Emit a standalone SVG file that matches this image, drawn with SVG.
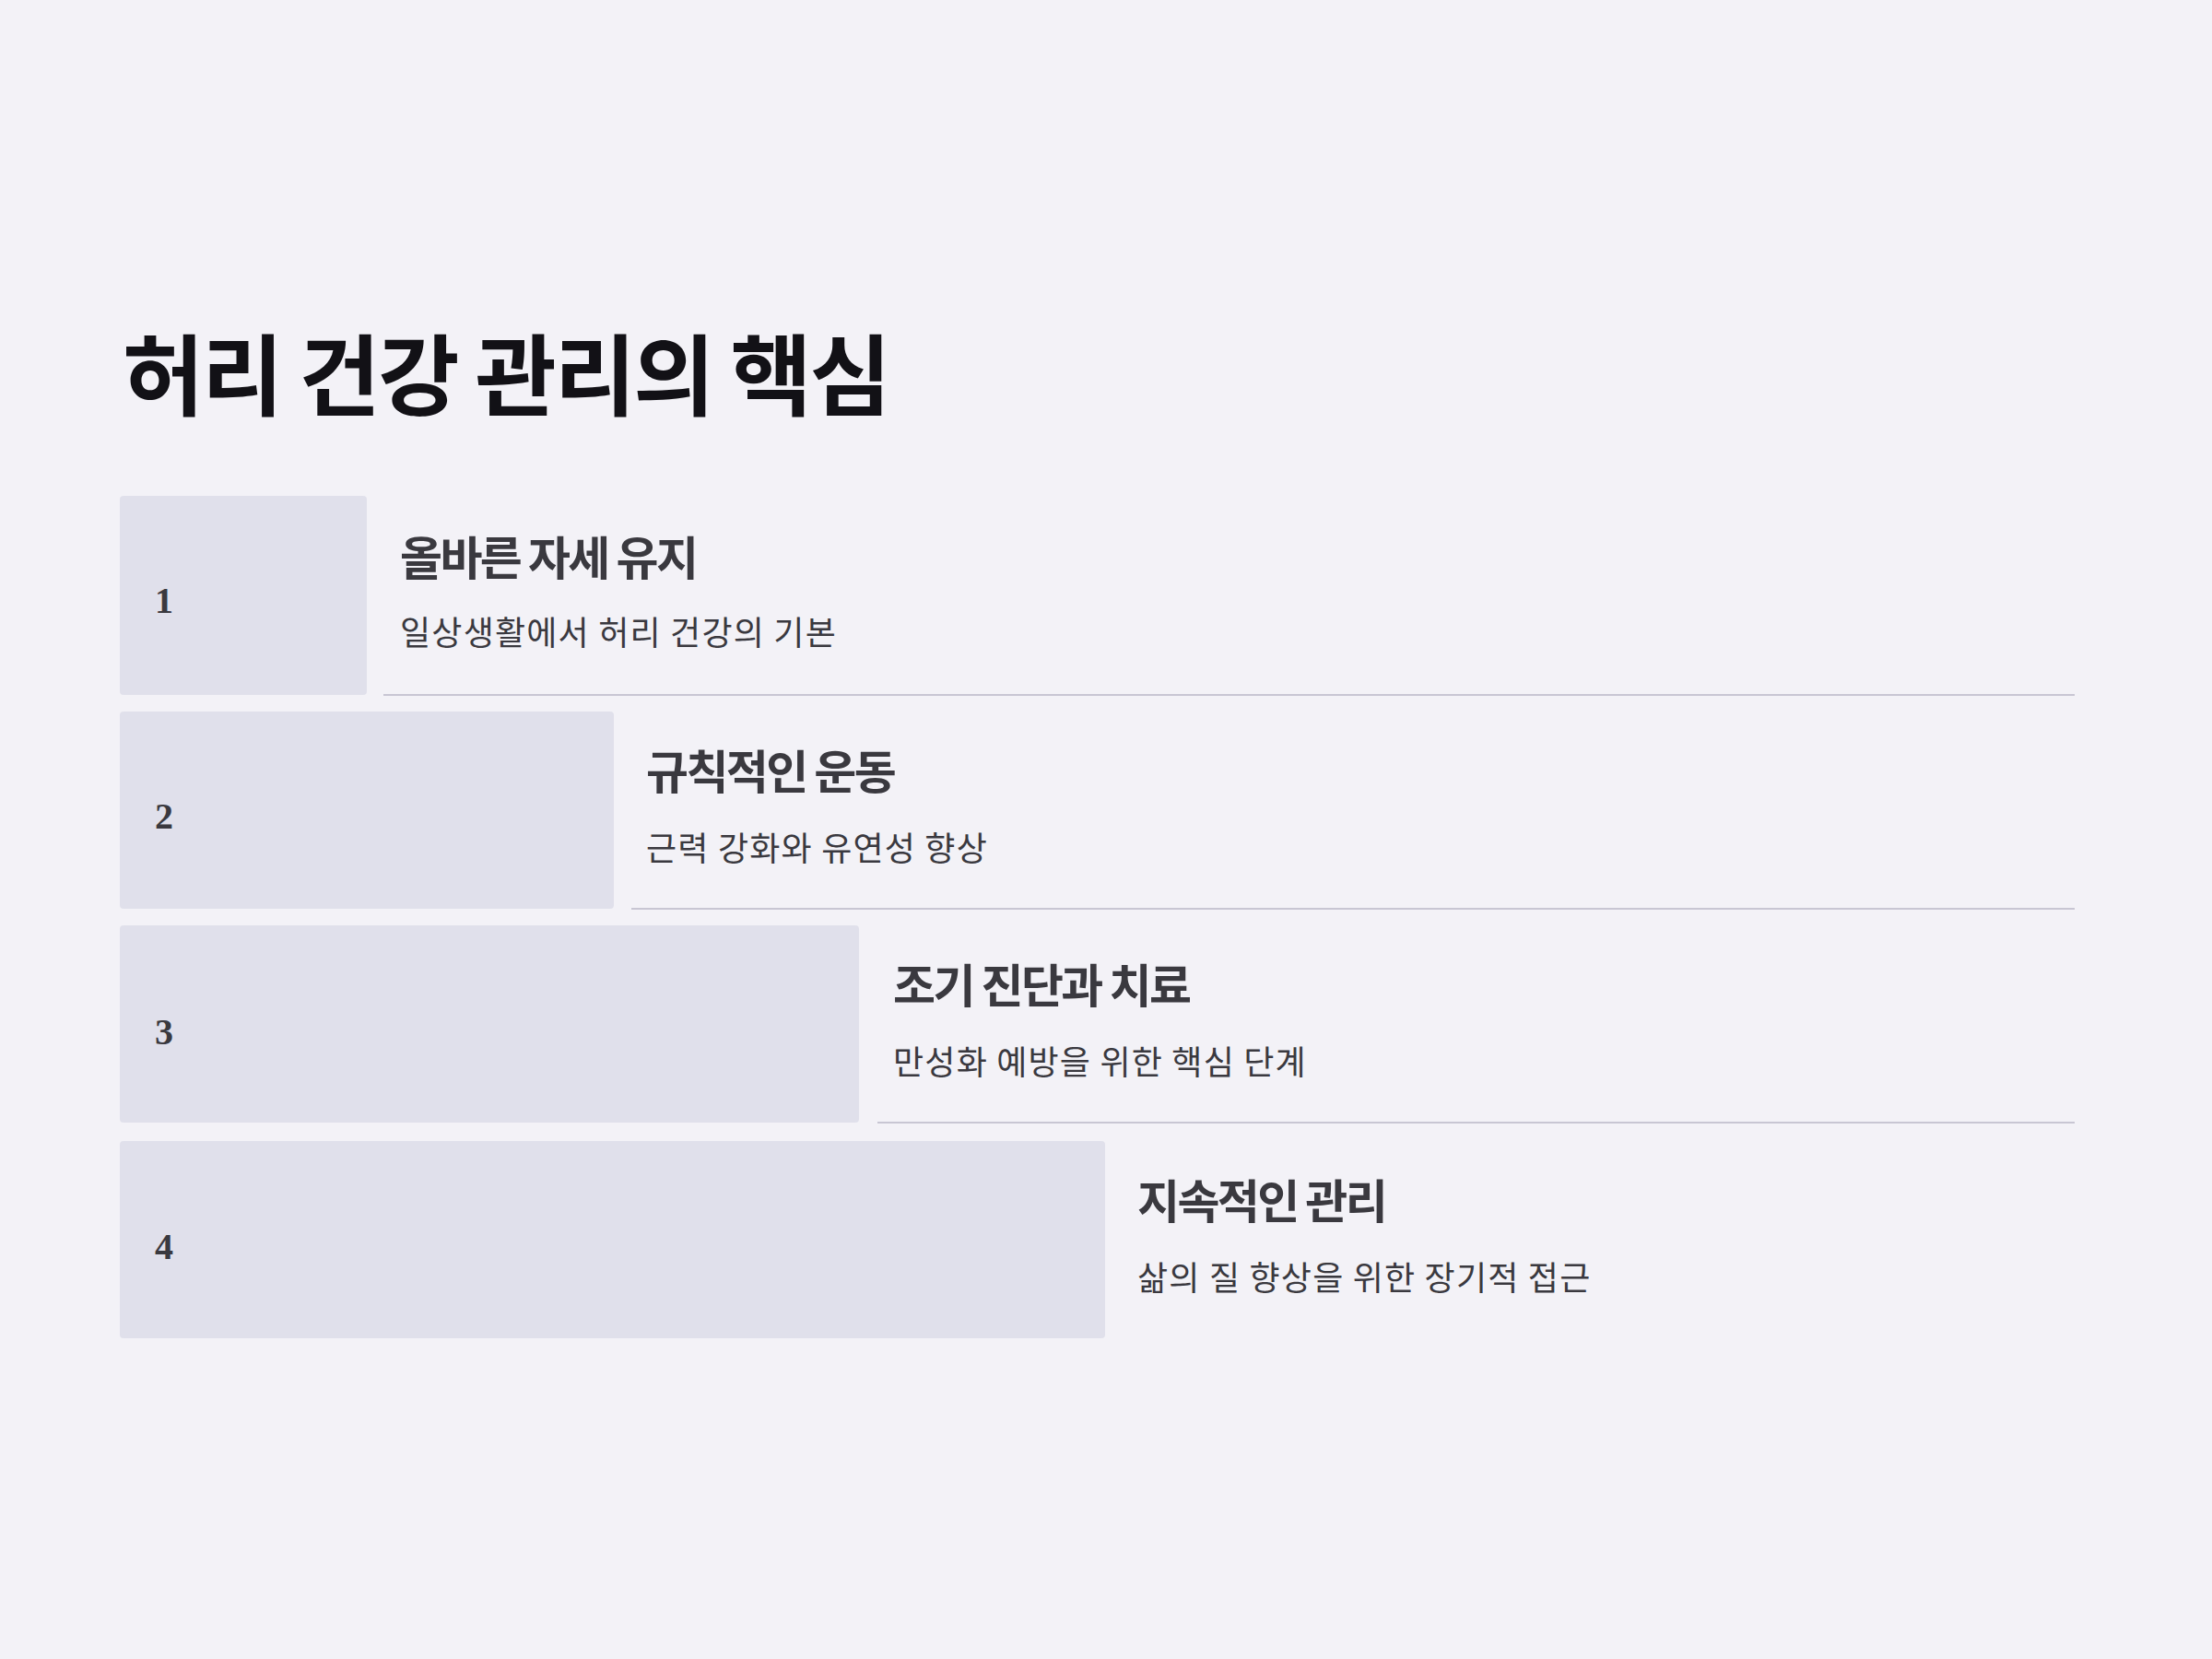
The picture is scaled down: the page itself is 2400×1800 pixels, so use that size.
<svg xmlns="http://www.w3.org/2000/svg" width="2400" height="1800" viewBox="0 0 2400 1800">
<style>
.bg{fill:#f3f2f7}
.box{fill:#e0e0eb}
.title{font-family:"Noto Sans CJK KR","Noto Sans",sans-serif;font-weight:700;font-size:96px;fill:#121116;letter-spacing:-2.4px}
.num{font-family:"Liberation Serif",serif;font-weight:700;font-size:40px;fill:#3a393f}
.h{font-family:"Noto Sans CJK KR","Noto Sans",sans-serif;font-weight:700;font-size:50px;fill:#3a393f;letter-spacing:-2.6px}
.s{font-family:"Noto Sans CJK KR","Noto Sans",sans-serif;font-weight:400;font-size:36px;fill:#3a393f;letter-spacing:1.2px}
.rule{stroke:#c8c6d3;stroke-width:2;fill:none}
</style>
<rect class="bg" x="0" y="0" width="2400" height="1800"/>
<text class="title" x="133" y="443">허리 건강 관리의 핵심</text>
<g id="step1">
<rect class="box" x="130" y="538" width="268" height="216" rx="4"/>
<text class="num" x="168" y="665">1</text>
<text class="h" x="434" y="624">올바른 자세 유지</text>
<text class="s" x="434" y="700">일상생활에서 허리 건강의 기본</text>
</g>
<g id="step2">
<rect class="box" x="130" y="772" width="536" height="214" rx="4"/>
<text class="num" x="168" y="899">2</text>
<text class="h" x="701" y="856">규칙적인 운동</text>
<text class="s" x="701" y="934">근력 강화와 유연성 향상</text>
</g>
<g id="step3">
<rect class="box" x="130" y="1004" width="802" height="214" rx="4"/>
<text class="num" x="168" y="1133">3</text>
<text class="h" x="969" y="1088">조기 진단과 치료</text>
<text class="s" x="969" y="1166">만성화 예방을 위한 핵심 단계</text>
</g>
<g id="step4">
<rect class="box" x="130" y="1238" width="1069" height="214" rx="4"/>
<text class="num" x="168" y="1366">4</text>
<text class="h" x="1234" y="1322">지속적인 관리</text>
<text class="s" x="1234" y="1400">삶의 질 향상을 위한 장기적 접근</text>
</g>
<g id="connectors">
<line class="rule" x1="416" y1="754" x2="2251" y2="754"/>
<line class="rule" x1="685" y1="986" x2="2251" y2="986"/>
<line class="rule" x1="952" y1="1218" x2="2251" y2="1218"/>
</g>
</svg>
